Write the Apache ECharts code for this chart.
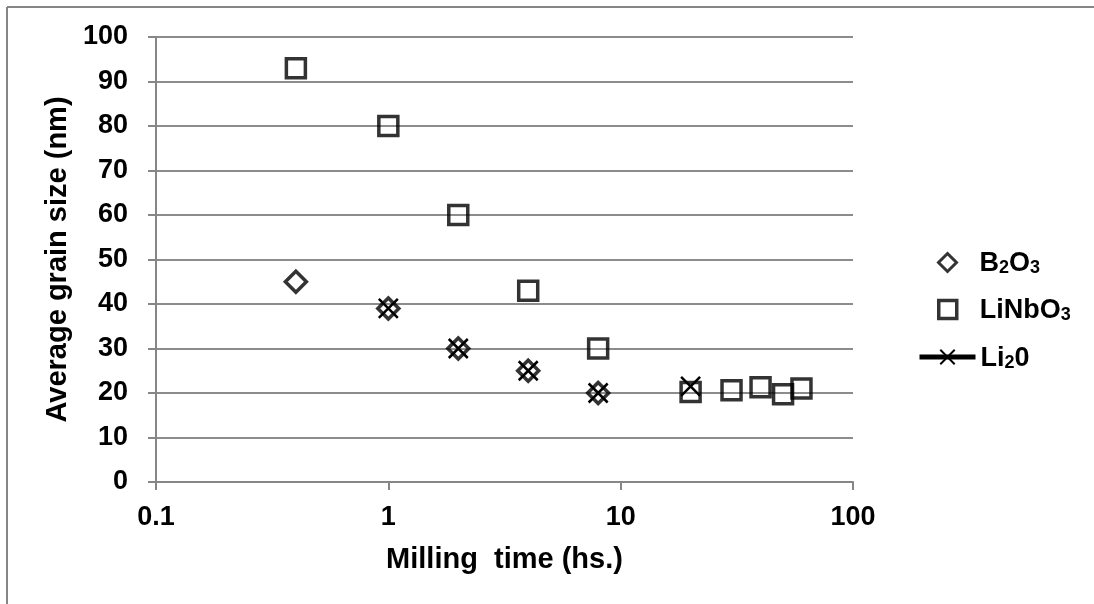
<!DOCTYPE html>
<html>
<head>
<meta charset="utf-8">
<script src="https://cdn.jsdelivr.net/npm/echarts@6/dist/echarts.min.js"></script>
<style>
  html, body { margin: 0; padding: 0; background: #fff; }
  #chart { width: 1094px; height: 604px; }
</style>
</head>
<body>
<div id="chart"></div>
<script>
// milling time (h) and grain size (nm)
const b2o3Time = [0.4, 1, 2, 4, 8];
const b2o3Size = [45, 39, 30, 25, 20];

const linbo3Time = [0.4, 1, 2, 4, 8, 20, 30, 40, 50, 60];
const linbo3Size = [93, 80, 60, 43, 30, 20.2, 20.6, 21.3, 19.7, 21];

const li2oTime = [1, 2, 4, 8, 20];
const li2oSize = [39, 30, 25, 20, 21.5];

const yTicks = [0, 10, 20, 30, 40, 50, 60, 70, 80, 90, 100];

const FONT = 'Arial, "Liberation Sans", sans-serif';
const zip = (xs, ys) => xs.map((x, i) => [x, ys[i]]);

const chart = echarts.init(document.getElementById('chart'));

const crossPath = 'path://M0,0L10,10M10,0L0,10';

// text with subscripts for the legend
const richText = {
  g: { width: 18 },
  n: { fontFamily: FONT, fontSize: 27, fontWeight: 'bold', color: '#000', lineHeight: 30, verticalAlign: 'bottom' },
  s: { fontFamily: FONT, fontSize: 18, fontWeight: 'bold', color: '#000', lineHeight: 10, verticalAlign: 'bottom' }
};
const legendLabel = {
  B2O3: '{g|}{n|B}{s|2}{n|O}{s|3}',
  LiNbO3: '{g|}{n|LiNbO}{s|3}',
  Li2O: '{n|Li}{s|2}{n|0}'
};

function makeLegend(item, left, top, w) {
  return {
    data: [item],
    orient: 'vertical',
    left: left,
    top: top,
    padding: 0,
    itemWidth: w,
    itemHeight: 18,
    selectedMode: false,
    textStyle: { fontFamily: FONT, fontSize: 27, fontWeight: 'bold', color: '#000', rich: richText },
    formatter: n => legendLabel[n]
  };
}

const option = {
  backgroundColor: '#fff',
  animation: false,
  textStyle: { fontFamily: FONT },
  grid: { left: 156, right: 241, top: 37, bottom: 122 },
  legend: [
    makeLegend({ name: 'B2O3', itemStyle: { borderColor: '#000', borderWidth: 3 } }, 937, 249, 18),
    makeLegend({ name: 'LiNbO3', itemStyle: { borderColor: '#000', borderWidth: 3.5 } }, 937, 296, 18),
    makeLegend({ name: 'Li2O', lineStyle: { color: '#000', width: 5, opacity: 1 } }, 917, 345, 56)
  ],
  xAxis: {
    type: 'log',
    logBase: 10,
    min: 0.1,
    max: 100,
    name: 'Milling  time (hs.)',
    nameLocation: 'middle',
    nameGap: 63,
    nameTextStyle: { fontFamily: FONT, fontSize: 29, fontWeight: 'bold', color: '#000' },
    axisLine: { lineStyle: { color: '#868686', width: 2 } },
    axisTick: { show: true, length: 8, lineStyle: { color: '#868686', width: 2 } },
    axisLabel: {
      margin: 22,
      fontFamily: FONT, fontSize: 27, fontWeight: 'bold', color: '#000',
      formatter: v => String(Math.round(v * 10) / 10)
    },
    splitLine: { show: false },
    minorTick: { show: false }
  },
  yAxis: {
    type: 'value',
    min: 0,
    max: 100,
    interval: 10,
    name: 'Average grain size (nm)',
    nameLocation: 'middle',
    nameRotate: 90,
    nameGap: 80,
    nameTextStyle: { fontFamily: FONT, fontSize: 29, fontWeight: 'bold', color: '#000' },
    axisLine: { show: true, lineStyle: { color: '#868686', width: 2 } },
    axisTick: { show: true, length: 8, lineStyle: { color: '#868686', width: 2 } },
    axisLabel: {
      margin: 28,
      fontFamily: FONT, fontSize: 27, fontWeight: 'bold', color: '#000',
      formatter: v => yTicks.includes(v) ? String(v) : ''
    },
    splitLine: { show: true, lineStyle: { color: '#8c8c8c', width: 2 } }
  },
  series: [
    {
      name: 'B2O3',
      type: 'scatter',
      data: zip(b2o3Time, b2o3Size),
      symbol: 'diamond',
      symbolSize: [21, 21],
      itemStyle: { color: 'rgba(0,0,0,0)', borderColor: '#000', borderWidth: 3.5 },
      z: 3
    },
    {
      name: 'LiNbO3',
      type: 'scatter',
      data: zip(linbo3Time, linbo3Size),
      symbol: 'rect',
      symbolSize: 19,
      itemStyle: { color: 'rgba(0,0,0,0)', borderColor: '#000', borderWidth: 3.5 },
      z: 3
    },
    {
      name: 'Li2O',
      type: 'line',
      data: zip(li2oTime, li2oSize),
      symbol: crossPath,
      symbolSize: 19,
      showSymbol: true,
      lineStyle: { width: 0, opacity: 0 },
      itemStyle: { color: 'rgba(0,0,0,0)', borderColor: '#000', borderWidth: 2.5 },
      z: 4
    }
  ],
  graphic: [
    { type: 'line', shape: { x1: 7, y1: 7, x2: 1094, y2: 7 }, style: { stroke: '#868686', lineWidth: 2 } },
    { type: 'line', shape: { x1: 7, y1: 7, x2: 7, y2: 604 }, style: { stroke: '#868686', lineWidth: 2 } }
  ]
};

chart.setOption(option);
</script>
</body>
</html>
